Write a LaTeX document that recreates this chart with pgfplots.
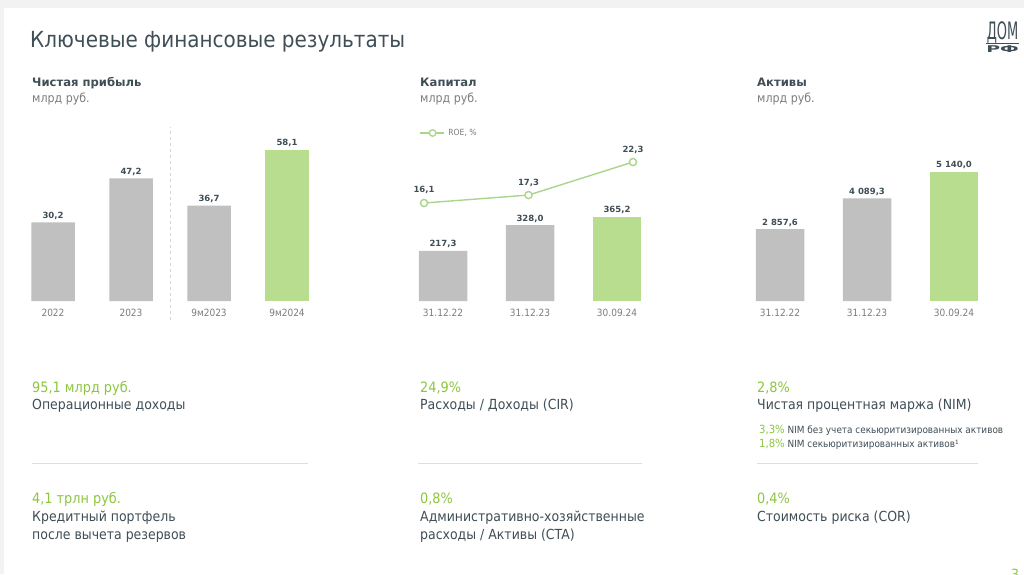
\documentclass[border=0pt]{standalone}
\usepackage{pgfplots}
\pgfplotsset{compat=1.18}
\usepackage{fontspec}
\setmainfont{DejaVu Sans Condensed}
\newfontfamily\wide{DejaVu Sans}
\definecolor{barGray}{RGB}{192,192,192}
\definecolor{barGreen}{RGB}{184,221,143}
\definecolor{txtGreen}{RGB}{141,198,63}
\definecolor{dark}{RGB}{64,78,86}
\definecolor{lblGray}{RGB}{125,125,125}
\definecolor{roeGreen}{RGB}{172,213,140}
\definecolor{sepGray}{RGB}{222,222,222}
\definecolor{bgGray}{RGB}{242,242,242}
\pgfplotsset{
  mybars/.style={
    scale only axis, clip=false,
    axis line style={draw=none}, ytick=\empty, major tick length=0pt,
    ymin=0, xmin=-0.5,
    ybar, bar shift=0pt,
    xticklabel style={font=\fontsize{10}{10}\selectfont, text=lblGray, anchor=base, yshift=-15pt},
    nodes near coords,
    every node near coord/.append style={font=\wide\fontsize{8.5}{9}\selectfont\bfseries, text=dark, anchor=base, yshift=4pt},
    /pgf/number format/use comma, /pgf/number format/fixed, /pgf/number format/fixed zerofill,
    /pgf/number format/precision=1, /pgf/number format/1000 sep={\ }, /pgf/number format/assume math mode=true,
  },
}
\begin{document}
\begin{tikzpicture}[x=1pt,y=1pt]
\useasboundingbox (0,0) rectangle (1024,574);
\fill[white] (0,0) rectangle (1024,574);
\fill[bgGray] (0,566) rectangle (1024,574);
\fill[bgGray] (0,0) rectangle (3.5,574);

% title
\node[anchor=base west, inner sep=0pt, text=dark, font=\fontsize{22.2}{26}\selectfont] at (30,526) {Ключевые финансовые результаты};
% logo
\node[anchor=base, inner sep=0pt, text=dark, font=\fontsize{24}{24}\selectfont, xscale=0.6] at (1002.5,534) {ДОМ};
\draw[dark, line width=1.6pt] (986,530.5) -- (1019,530.5);
\node[anchor=base, inner sep=0pt, text=dark, font=\fontsize{11}{11}\selectfont\bfseries, xscale=1.9, yscale=0.85] at (1002.5,521) {РФ};

% section headers
\foreach \x/\t in {32/Чистая прибыль, 420/Капитал, 757/Активы}{
  \node[anchor=base west, inner sep=0pt, text=dark, font=\wide\fontsize{11.6}{12}\selectfont\bfseries] at (\x,487) {\t};
  \node[anchor=base west, inner sep=0pt, text=lblGray, font=\fontsize{12.3}{13}\selectfont] at (\x,471) {млрд руб.};
}

% chart 1: net profit
\begin{axis}[mybars, at={(14pt,273pt)}, anchor=south west, width=312pt, height=182pt,
  xmax=3.5, ymax=70, bar width=43.5pt,
  xtick={0,1,2,3}, xticklabels={2022,2023,9м2023,9м2024}]
\addplot[fill=barGray, draw=none] coordinates {(0,30.2) (1,47.2) (2,36.7)};
\addplot[fill=barGreen, draw=none] coordinates {(3,58.1)};
\draw[sepGray!90!gray, dash pattern=on 3pt off 3pt, line width=0.7pt] (axis cs:1.5,-7.3) -- (axis cs:1.5,67);
\end{axis}

% chart 2: capital
\begin{axis}[mybars, at={(399.5pt,273pt)}, anchor=south west, width=261pt, height=92.4pt,
  xmax=2.5, ymax=400, bar width=48.5pt,
  xtick={0,1,2}, xticklabels={31.12.22,31.12.23,30.09.24}]
\addplot[fill=barGray, draw=none] coordinates {(0,217.3) (1,328.0)};
\addplot[fill=barGreen, draw=none] coordinates {(2,365.2)};
\end{axis}
% ROE line
\begin{axis}[scale only axis, clip=false, at={(371.75pt,330.7pt)}, anchor=south west, width=313.5pt, height=99.1pt,
  xmin=-0.5, xmax=2.5, ymin=10, ymax=25, hide axis,
  nodes near coords,
  every node near coord/.append style={font=\wide\fontsize{8.5}{9}\selectfont\bfseries, text=dark, anchor=base, yshift=10pt},
  /pgf/number format/use comma, /pgf/number format/fixed, /pgf/number format/fixed zerofill,
  /pgf/number format/precision=1, /pgf/number format/assume math mode=true,
  legend style={at={(0.150,1.113)}, anchor=west, draw=none, fill=none, inner sep=0pt,
    font=\fontsize{8.5}{9}\selectfont, text=lblGray,
    /tikz/every odd column/.append style={column sep=2pt}},
  ]
\addplot[roeGreen, line width=1.4pt, mark=*, mark size=3.6pt, mark options={fill=white, draw=roeGreen, line width=1.4pt},
  legend image code/.code={\draw[roeGreen, line width=1.3pt] (0pt,0pt) -- (24pt,0pt); \draw[roeGreen, line width=1.3pt, fill=white] (13pt,0pt) circle (3.3pt);}]
  coordinates {(0,16.1) (1,17.3) (2,22.3)};
\addlegendentry{ROE, \%}
\end{axis}

% chart 3: assets
\begin{axis}[mybars, at={(736.5pt,273pt)}, anchor=south west, width=261pt, height=150.7pt,
  xmax=2.5, ymax=6000, bar width=48.5pt,
  xtick={0,1,2}, xticklabels={31.12.22,31.12.23,30.09.24}]
\addplot[fill=barGray, draw=none] coordinates {(0,2857.6) (1,4089.3)};
\addplot[fill=barGreen, draw=none] coordinates {(2,5140.0)};
\end{axis}

% KPI blocks
\tikzset{kg/.style={anchor=base west, inner sep=0pt, text=txtGreen, font=\fontsize{14.3}{16}\selectfont},
         kd/.style={anchor=base west, inner sep=0pt, text=dark, font=\fontsize{13.9}{16}\selectfont},
         ks/.style={anchor=base west, inner sep=0pt, text=dark, font=\fontsize{9.9}{11}\selectfont}}
\node[kg] at (32,181.5) {95,1 млрд руб.};
\node[kd] at (32,164.5) {Операционные доходы};
\node[kg] at (420,181.5) {24,9\%};
\node[kd] at (420,164.5) {Расходы / Доходы (CIR)};
\node[kg] at (757,181.5) {2,8\%};
\node[kd] at (757,164.5) {Чистая процентная маржа (NIM)};
\node[ks] at (759,140.5) {\textcolor{txtGreen}{\fontsize{11.2}{11}\selectfont 3,3\%} NIM без учета секьюритизированных активов};
\node[ks] at (759,126.5) {\textcolor{txtGreen}{\fontsize{11.2}{11}\selectfont 1,8\%} NIM секьюритизированных активов¹};

\draw[sepGray, line width=1pt] (32,111) -- (308,111);
\draw[sepGray, line width=1pt] (418,111) -- (642,111);
\draw[sepGray, line width=1pt] (757,111) -- (978,111);

\node[kg] at (32,70.5) {4,1 трлн руб.};
\node[kd] at (32,52.5) {Кредитный портфель};
\node[kd] at (32,34.5) {после вычета резервов};
\node[kg] at (420,70.5) {0,8\%};
\node[kd] at (420,52.5) {Административно-хозяйственные};
\node[kd] at (420,34.5) {расходы / Активы (CTA)};
\node[kg] at (757,70.5) {0,4\%};
\node[kd] at (757,52.5) {Стоимость риска (COR)};

\node[anchor=north west, inner sep=0pt, text=txtGreen, font=\fontsize{14}{14}\selectfont] at (1011,5) {3};
\end{tikzpicture}
\end{document}
